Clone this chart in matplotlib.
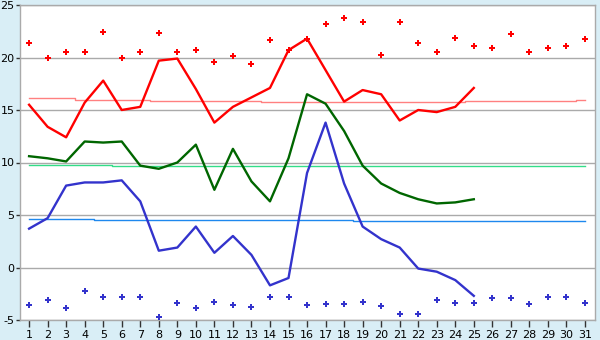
import matplotlib
matplotlib.use('Agg')
import matplotlib.pyplot as plt

plt.rcParams['axes.unicode_minus'] = False

days = list(range(1, 32))
obs_days = list(range(1, 26))

# daily values (deg C)
high = [15.5, 13.4, 12.4, 15.7, 17.8, 15.0, 15.3, 19.7, 19.9, 17.0,
        13.8, 15.3, 16.2, 17.1, 20.7, 21.8, 18.8, 15.8, 16.9, 16.5,
        14.0, 15.0, 14.8, 15.3, 17.1]
mean = [10.6, 10.4, 10.1, 12.0, 11.9, 12.0, 9.7, 9.4, 10.0, 11.7,
        7.4, 11.3, 8.2, 6.3, 10.4, 16.5, 15.6, 13.0, 9.7, 8.0,
        7.1, 6.5, 6.1, 6.2, 6.5]
low = [3.7, 4.7, 7.8, 8.1, 8.1, 8.3, 6.3, 1.6, 1.9, 3.9,
       1.4, 3.0, 1.2, -1.7, -1.0, 9.0, 13.8, 8.0, 3.9, 2.7,
       1.9, -0.1, -0.4, -1.2, -2.7]

# long-term normals
norm_high = [16.1, 16.1, 16.1, 16.0, 16.0, 16.0, 16.0, 15.9, 15.9, 15.9,
             15.9, 15.9, 15.9, 15.8, 15.8, 15.8, 15.8, 15.8, 15.8, 15.8,
             15.8, 15.8, 15.8, 15.8, 15.9, 15.9, 15.9, 15.9, 15.9, 15.9, 16.0]
norm_mean = [9.8, 9.8, 9.8, 9.8, 9.8, 9.7, 9.7, 9.7, 9.7, 9.7,
             9.7, 9.7, 9.7, 9.7, 9.7, 9.7, 9.7, 9.7, 9.7, 9.7,
             9.7, 9.7, 9.7, 9.7, 9.7, 9.7, 9.7, 9.7, 9.7, 9.7, 9.7]
norm_low = [4.6, 4.6, 4.6, 4.6, 4.5, 4.5, 4.5, 4.5, 4.5, 4.5,
            4.5, 4.5, 4.5, 4.5, 4.5, 4.5, 4.5, 4.5, 4.4, 4.4,
            4.4, 4.4, 4.4, 4.4, 4.4, 4.4, 4.4, 4.4, 4.4, 4.4, 4.4]

# records
rec_high = [21.4, 20.0, 20.5, 20.5, 22.4, 20.0, 20.5, 22.3, 20.5, 20.7,
            19.6, 20.1, 19.4, 21.7, 20.7, 21.8, 23.2, 23.8, 23.4, 20.2,
            23.4, 21.4, 20.5, 21.9, 21.1, 20.9, 22.2, 20.5, 20.9, 21.1, 21.8]
rec_low = [-3.6, -3.1, -3.9, -2.2, -2.8, -2.8, -2.8, -4.7, -3.4, -3.9,
           -3.3, -3.6, -3.8, -2.8, -2.8, -3.6, -3.5, -3.5, -3.3, -3.7,
           -4.4, -4.4, -3.1, -3.4, -3.4, -2.9, -2.9, -3.5, -2.8, -2.8, -3.4]

fig = plt.figure(figsize=(6, 3.4), dpi=100, facecolor='#d9eef6')
ax = fig.add_axes([20/600, 20/340, 575/600, 315/340])
ax.set_facecolor('white')

for v in range(-5, 26, 5):
    ax.axhline(v, color='#aaaaaa', lw=1, zorder=1)

ax.step(days, norm_high, where='mid', color='#ff8080', lw=1, zorder=2)
ax.step(days, norm_mean, where='mid', color='#33dd88', lw=1, zorder=2)
ax.step(days, norm_low, where='mid', color='#1e88ee', lw=1, zorder=2)

ax.plot(obs_days, high, color='#ff0000', lw=1.7, zorder=3)
ax.plot(obs_days, mean, color='#006600', lw=1.7, zorder=3)
ax.plot(obs_days, low, color='#3333cc', lw=1.7, zorder=3)

ax.plot(days, rec_high, 'P', color='#ff0000', ms=4.5, mew=0, zorder=4)
ax.plot(days, rec_low, 'P', color='#3333cc', ms=4.5, mew=0, zorder=4)

ax.set_xlim(0.51, 31.54)
ax.set_ylim(-5, 25)
ax.set_xticks(days)
ax.set_yticks(range(-5, 26, 5))
ax.tick_params(axis='both', labelsize=8, color='#333333', width=1)
ax.tick_params(axis='y', length=3, pad=1)
ax.tick_params(axis='x', length=5, pad=2)
for s in ax.spines.values():
    s.set_color('#aaaaaa')
    s.set_linewidth(1)

fig.savefig('out.png', dpi=100, facecolor=fig.get_facecolor())
